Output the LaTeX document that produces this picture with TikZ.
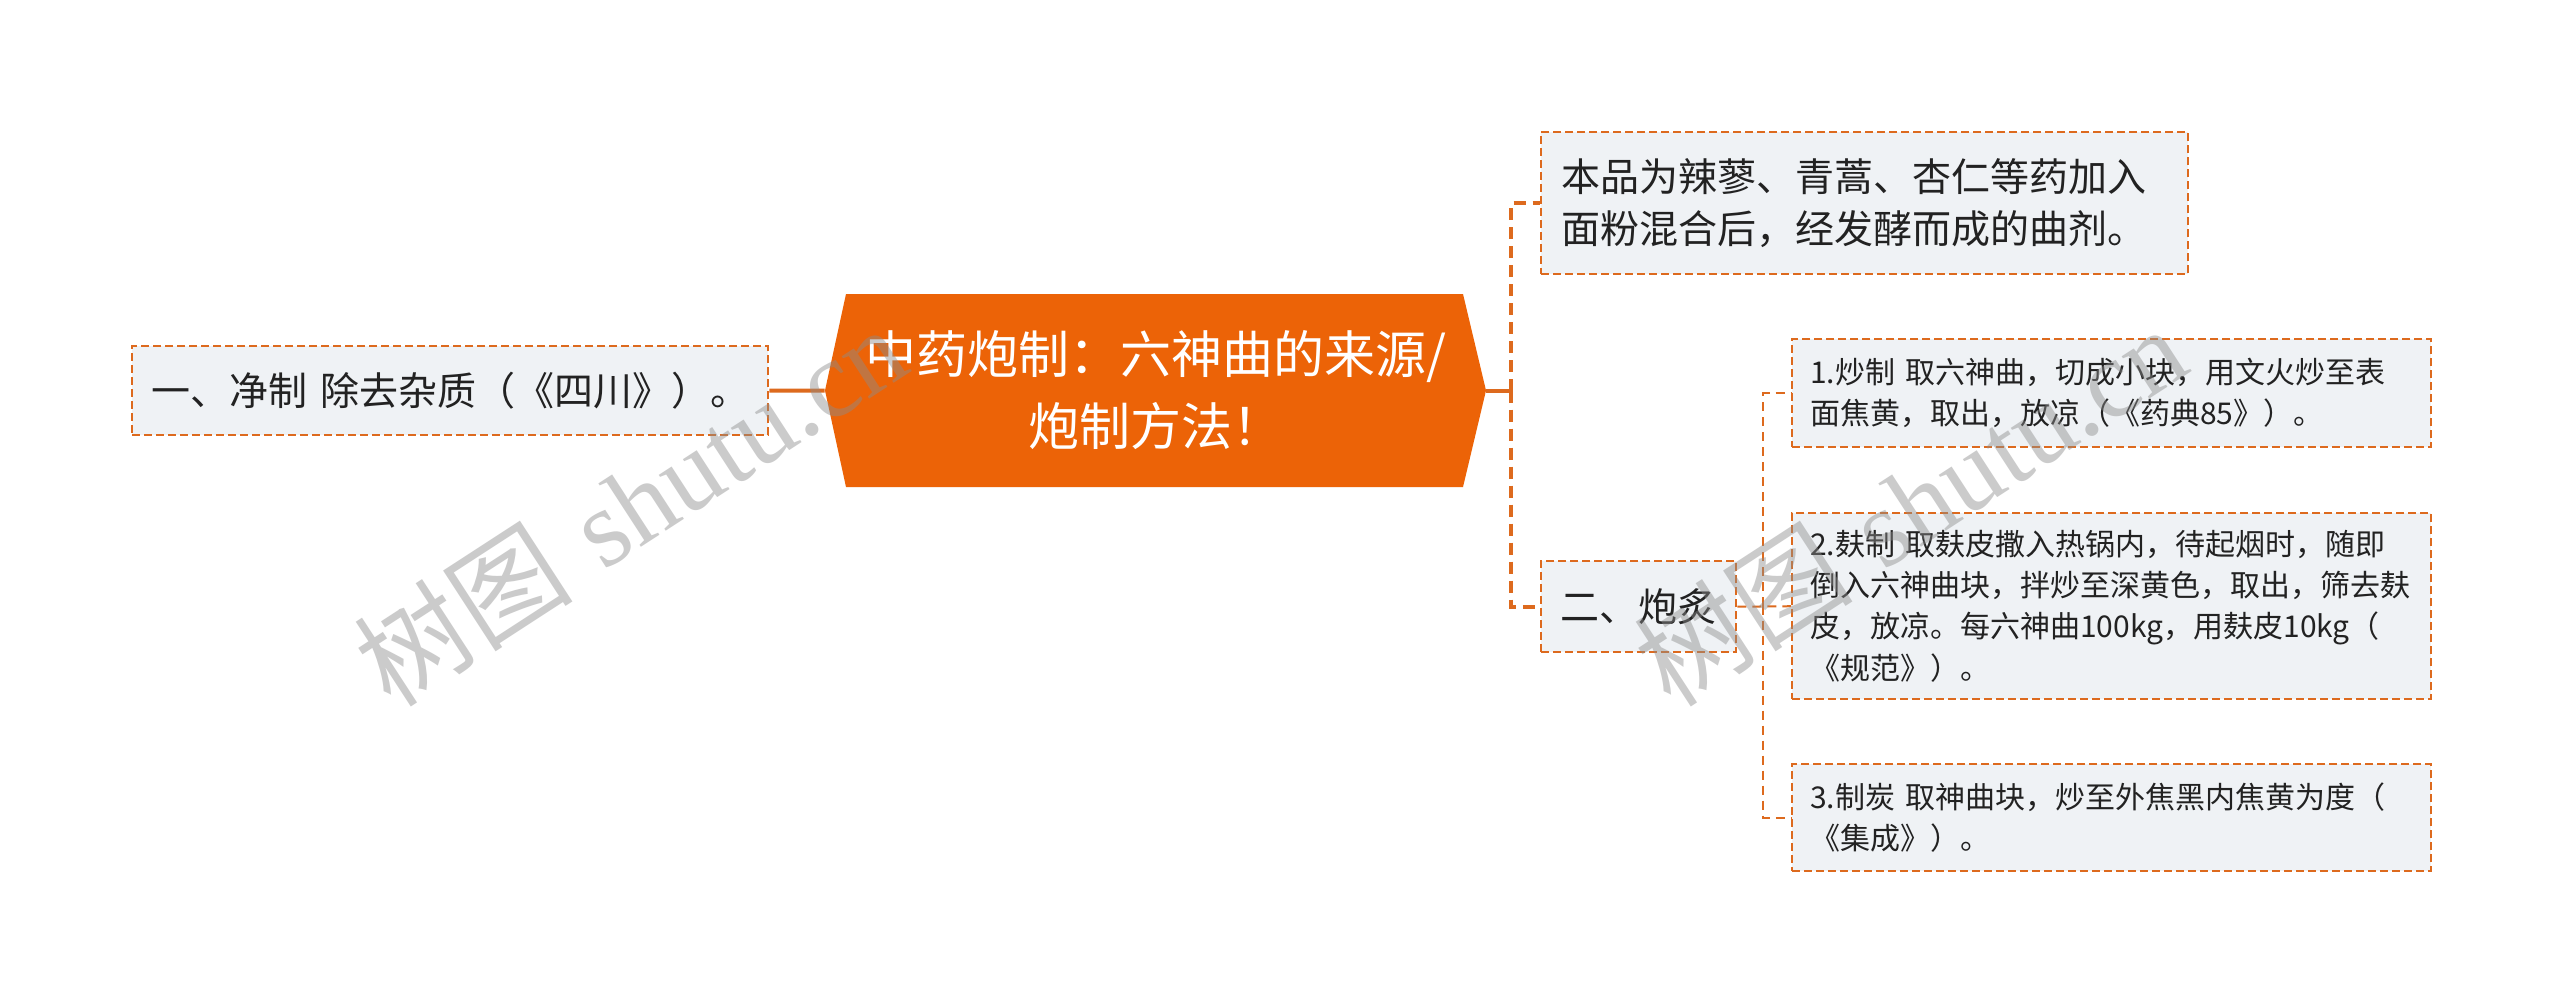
\documentclass[tikz,border=0pt]{standalone}
\usepackage{fontspec}
\newfontfamily\cjk{Noto Sans CJK SC}
\newfontfamily\wmserif{Liberation Serif}
\usetikzlibrary{calc}
\definecolor{lineC}{HTML}{DD6A1E}
\definecolor{rootC}{HTML}{EC6307}
\definecolor{boxC}{HTML}{EFF2F5}
\definecolor{txtC}{HTML}{222222}
\definecolor{wmC}{HTML}{8C8C8C}
\pgfdeclarelayer{background}
\pgfsetlayers{background,main}
\begin{document}
\begin{tikzpicture}[x=0.5pt,y=-0.5pt,
 box/.style={draw=lineC, fill=boxC, line width=1.2pt, dash pattern=on 4pt off 2pt, rectangle, anchor=north west, align=left, inner ysep=0pt, text=txtC},
 bigtxt/.style={font=\cjk\fontsize{19.5}{26}\selectfont},
 smalltxt/.style={font=\cjk\fontsize{15}{20.6}\selectfont},
 conn/.style={draw=lineC, line width=2pt},
 dconnA/.style={draw=lineC, line width=2pt, dash pattern=on 6pt off 3.5pt},
 dconnB/.style={draw=lineC, line width=1pt, dash pattern=on 4.5pt off 3pt},
 wm/.style={text=wmC, opacity=0.45, rotate=33, font=\fontsize{55}{55}\selectfont}]
\useasboundingbox (0,0) rectangle (2560,1003);

% central topic
\fill[rootC] (846,294) -- (825,390.5) -- (846,487) -- (1463,487) -- (1486,390.5) -- (1463,294) -- cycle;
\node[inner sep=0pt, minimum width=330.5pt, minimum height=96.5pt, align=center, text=white, font=\cjk\fontsize{25.5}{36}\selectfont] (root) at (1155.5,390.5) {中药炮制：六神曲的来源/\\炮制方法！};

% left
\node[box, bigtxt, minimum width=318pt, minimum height=44.5pt, text width=299pt, inner xsep=9.5pt] (n1) at (131,345) {一、净制 除去杂质（《四川》）。};

% right top
\node[box, bigtxt, minimum width=323.5pt, minimum height=71pt, text width=303.5pt, inner xsep=10pt] (n2) at (1540,131) {本品为辣蓼、青蒿、杏仁等药加入\\面粉混合后，经发酵而成的曲剂。};

% right second
\node[box, bigtxt, minimum width=97.5pt, minimum height=45.5pt, text width=78.5pt, inner xsep=9.5pt] (n3) at (1540,560) {二、炮炙};

% children
\node[box, smalltxt, minimum width=319.5pt, minimum height=54pt, text width=301.5pt, inner xsep=9pt] (c1) at (1791,338) {1.炒制 取六神曲，切成小块，用文火炒至表\\面焦黄，取出，放凉（《药典85》）。};
\node[box, smalltxt, minimum width=319.5pt, minimum height=93pt, text width=301.5pt, inner xsep=9pt] (c2) at (1791,512) {2.麸制 取麸皮撒入热锅内，待起烟时，随即\\倒入六神曲块，拌炒至深黄色，取出，筛去麸\\皮，放凉。每六神曲100kg，用麸皮10kg（\\《规范》）。};
\node[box, smalltxt, minimum width=319.5pt, minimum height=53.5pt, text width=301.5pt, inner xsep=9pt] (c3) at (1791,763) {3.制炭 取神曲块，炒至外焦黑内焦黄为度（\\《集成》）。};

\coordinate (j1) at (1511,390.5);
\coordinate (j2) at (1763,605.5);

\begin{pgfonlayer}{background}
\fill[white] (0,0) rectangle (2560,1003);
\draw[conn] (n1.east) -- (root.west);
\draw[conn] (root.east) -- (j1);
\draw[dconnA] (j1) |- (n2.west);
\draw[dconnA] (j1) |- (n3.west);
\draw[dconnB] (n3.east) -- (c2.west);
\draw[dconnB] (j2) |- (c1.west);
\draw[dconnB] (j2) |- (c3.west);
\end{pgfonlayer}

% watermarks
\node[wm] (wm1) at (630,505) {{\cjk 树图} {\wmserif shutu.cn}};
\node[wm] (wm2) at (1910,505) {{\cjk 树图} {\wmserif shutu.cn}};
\end{tikzpicture}
\end{document}
